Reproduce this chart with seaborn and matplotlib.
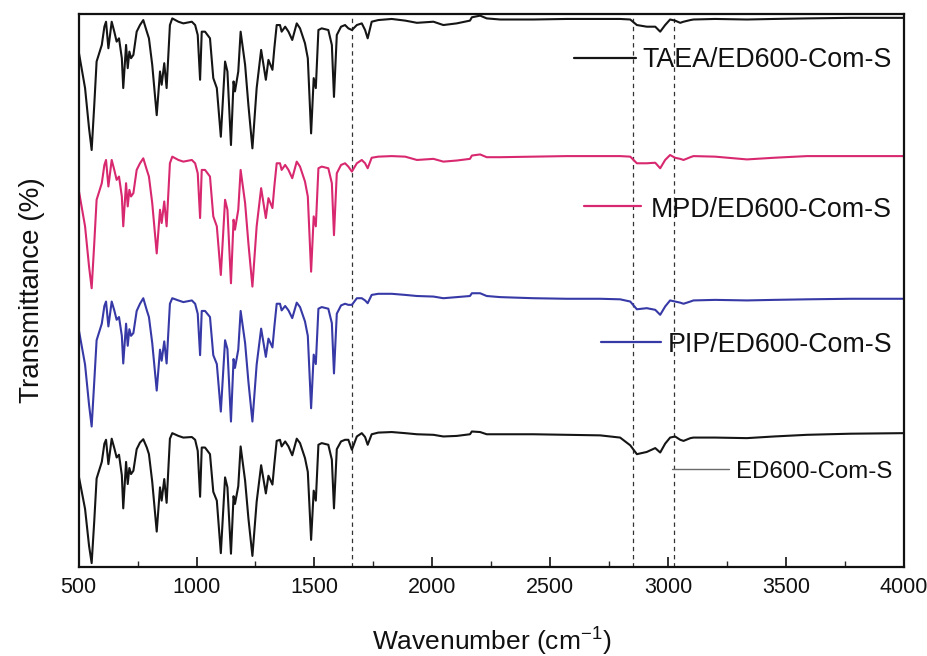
import numpy as np
import pandas as pd
import matplotlib
matplotlib.use("Agg")
import matplotlib.pyplot as plt
from matplotlib.ticker import MultipleLocator
import seaborn as sns

# FTIR spectra of the composite membranes (wavenumber in cm-1, transmittance in %)
wavenumber_low = [
    500, 527, 544, 555, 566, 576, 598, 609, 616, 626,
    640, 651, 661, 671, 683, 689, 701, 708, 715, 722,
    732, 746, 760, 774, 789, 798, 812, 831, 845, 852,
    863, 873, 887, 897, 923, 944, 980, 994, 1005, 1015,
    1022, 1036, 1057, 1071, 1086, 1103, 1121, 1131, 1146, 1157,
    1163, 1177, 1187, 1206, 1220, 1237, 1255, 1274, 1294, 1305,
    1322, 1330, 1340, 1354, 1361, 1376, 1390, 1406, 1425, 1439,
    1460, 1472, 1486, 1497, 1506, 1517, 1531, 1559, 1574, 1583,
    1595, 1613, 1630, 1644, 1659, 1680, 1701, 1715, 1726, 1743,
    1771, 1828, 1885,
]
wavenumber_high = [
    1935, 2005, 2047, 2104, 2160, 2168, 2203, 2231, 2288, 2429,
    2571, 2712, 2797, 2840, 2868, 2910, 2946, 2967, 2988, 3009,
    3030, 3052, 3066, 3095, 3108, 3200, 3335, 3450, 3590, 3774,
    4000,
]

taea_low = [
    93.2, 86.6, 79.3, 75.4, 83.5, 91.4, 94.4, 97.7, 98.6, 93.8,
    98.6, 96.8, 95.0, 95.6, 92.0, 86.6, 94.4, 90.2, 93.2, 92.0,
    92.6, 96.8, 98.0, 98.9, 96.8, 95.6, 90.8, 81.7, 89.6, 87.2,
    91.1, 86.6, 98.0, 99.2, 98.6, 98.3, 98.6, 98.0, 96.2, 88.1,
    96.8, 96.8, 95.6, 88.4, 86.6, 77.8, 91.4, 89.6, 76.3, 87.8,
    86.0, 89.6, 96.8, 90.8, 83.5, 75.7, 86.6, 93.5, 88.1, 91.7,
    89.9, 93.8, 98.0, 98.0, 96.8, 97.7, 96.8, 95.3, 98.3, 97.4,
    94.7, 92.0, 78.4, 88.4, 86.6, 97.1, 97.4, 97.1, 94.4, 85.0,
    96.2, 97.7, 98.0, 97.4, 97.1, 98.0, 98.3, 97.1, 95.6, 98.6,
    98.9, 99.1, 98.8,
]
taea_high = [
    98.4, 98.6, 98.0, 98.3, 98.8, 99.4, 99.7, 99.2, 99.0, 99.0,
    99.1, 99.1, 99.1, 99.0, 98.0, 97.7, 97.7, 96.8, 98.0, 99.0,
    98.8, 98.4, 98.6, 98.9, 99.0, 99.1, 99.0, 99.1, 99.2, 99.3,
    99.3,
]

mpd_low = [
    93.2, 86.6, 79.3, 75.4, 83.5, 91.4, 94.4, 97.7, 98.6, 93.8,
    98.6, 96.8, 95.0, 95.6, 92.0, 86.6, 94.4, 90.2, 93.2, 92.0,
    92.6, 96.8, 98.0, 98.9, 96.8, 95.6, 90.8, 81.7, 89.6, 87.2,
    91.1, 86.6, 98.0, 99.2, 98.6, 98.3, 98.6, 98.0, 96.2, 88.1,
    96.8, 96.8, 95.6, 88.4, 86.6, 77.8, 91.4, 89.6, 76.3, 87.8,
    86.0, 89.6, 96.8, 90.8, 83.5, 75.7, 86.6, 93.5, 88.1, 91.7,
    89.9, 93.8, 98.0, 98.0, 96.8, 97.7, 96.8, 95.3, 98.3, 97.4,
    94.7, 92.0, 78.4, 88.4, 86.6, 97.1, 97.4, 97.1, 94.4, 85.0,
    96.2, 97.7, 98.0, 97.4, 96.5, 98.0, 98.6, 98.0, 97.1, 99.0,
    99.2, 99.3, 99.2,
]
mpd_high = [
    98.6, 98.8, 98.3, 98.5, 98.8, 99.4, 99.6, 99.1, 99.1, 99.2,
    99.3, 99.3, 99.3, 99.2, 98.0, 98.0, 98.1, 97.1, 98.6, 99.5,
    99.0, 98.8, 98.6, 99.1, 99.3, 99.2, 98.7, 99.0, 99.3, 99.3,
    99.3,
]

pip_low = [
    93.0, 86.6, 79.3, 75.4, 83.5, 91.0, 94.0, 97.2, 98.0, 93.5,
    98.0, 96.4, 94.7, 95.2, 91.8, 86.8, 94.0, 90.0, 93.0, 91.8,
    92.3, 96.3, 97.6, 98.6, 96.4, 95.2, 90.5, 81.9, 89.3, 87.3,
    90.8, 86.8, 97.6, 98.6, 98.2, 97.9, 98.2, 97.6, 95.8, 88.3,
    96.3, 96.3, 95.2, 88.3, 86.7, 78.1, 91.0, 89.4, 76.3, 87.6,
    86.0, 89.3, 96.3, 90.5, 83.5, 76.3, 86.6, 93.1, 88.0, 91.3,
    89.7, 93.4, 97.6, 97.6, 96.4, 97.2, 96.4, 95.0, 97.8, 97.0,
    94.4, 91.8, 78.7, 88.4, 86.7, 96.7, 97.0, 96.7, 94.1, 85.0,
    95.8, 97.3, 97.6, 97.4, 97.4, 98.6, 98.6, 98.2, 97.7, 99.2,
    99.4, 99.4, 99.2,
]
pip_high = [
    99.0, 98.9, 98.6, 98.8, 99.0, 99.5, 99.5, 99.0, 98.8, 98.6,
    98.5, 98.5, 98.4, 98.0, 96.6, 96.8, 96.5, 95.6, 97.1, 98.2,
    98.0, 97.8, 97.6, 98.0, 98.2, 98.3, 98.2, 98.3, 98.4, 98.5,
    98.5,
]

ed600_low = [
    91.5, 85.5, 78.8, 75.7, 83.3, 91.0, 94.0, 97.3, 98.0, 93.6,
    98.2, 96.5, 94.8, 95.3, 91.6, 85.6, 94.0, 90.0, 92.9, 91.8,
    92.4, 96.3, 97.5, 98.1, 96.6, 95.4, 90.4, 81.4, 89.4, 87.0,
    90.9, 86.6, 98.2, 99.2, 98.7, 98.4, 98.5, 98.0, 96.0, 87.7,
    96.6, 96.6, 95.4, 88.6, 87.0, 77.5, 91.2, 89.4, 77.4, 87.8,
    86.4, 89.6, 96.8, 90.6, 83.8, 77.0, 86.8, 93.4, 88.3, 91.5,
    89.9, 93.6, 97.8, 98.0, 96.8, 97.7, 96.8, 95.2, 98.2, 97.4,
    94.7, 92.2, 79.9, 88.8, 87.0, 97.1, 97.4, 97.1, 94.4, 85.6,
    96.3, 97.7, 98.0, 98.0, 96.2, 98.6, 99.2, 98.5, 97.1, 99.0,
    99.3, 99.4, 99.2,
]
ed600_high = [
    99.0, 98.9, 98.6, 98.7, 99.0, 99.5, 99.4, 99.0, 99.0, 99.0,
    98.9, 98.8, 98.4, 97.0, 95.4, 95.8, 96.5, 95.7, 97.3, 98.4,
    98.6, 98.0, 97.8, 98.3, 98.4, 98.4, 98.3, 98.6, 98.9, 99.1,
    99.2,
]

samples = ["TAEA/ED600-Com-S", "MPD/ED600-Com-S", "PIP/ED600-Com-S", "ED600-Com-S"]
band_positions = [1660, 2850, 3025]

wavenumber = wavenumber_low + wavenumber_high
spectra = [taea_low + taea_high, mpd_low + mpd_high,
           pip_low + pip_high, ed600_low + ed600_high]

# vertical stacking of the traces and their styling
offsets = [0, -25, -50, -75]
colors = ["#151515", "#d8286f", "#3639a6", "#151515"]
key_colors = ["#151515", "#d8286f", "#3639a6", "#6a6a6a"]
key_widths = [1.6, 1.6, 1.6, 1.0]
key_lengths = [62, 57, 60, 57]
key_gaps = [7, 10, 7, 7]
label_sizes = [19.3, 19.3, 19.3, 17.3]
label_baseline = [90.4, 63.3, 38.9, 16.0]
key_y = [92.0, 65.2, 40.7, 17.8]

sns.set_style("ticks")
plt.rcParams["font.family"] = ["Liberation Sans", "DejaVu Sans"]
plt.rcParams["mathtext.fontset"] = "custom"
plt.rcParams["mathtext.rm"] = "Liberation Sans"
plt.rcParams["mathtext.it"] = "Liberation Sans:italic"
plt.rcParams["mathtext.default"] = "regular"

frames = []
for name, vals, off in zip(samples, spectra, offsets):
    vals = np.asarray(vals, dtype=float)
    frames.append(pd.DataFrame({
        "wavenumber": wavenumber,
        "transmittance": vals,
        "stacked": vals + off,
        "sample": name,
    }))
df = pd.concat(frames, ignore_index=True)

fig = plt.figure(figsize=(9.28, 6.56), dpi=100)
ax = fig.add_axes([0.0848, 0.1357, 0.889, 0.843])

for x in band_positions:
    ax.axvline(x, color="#333333", lw=0.9, ls=(0, (3.5, 3)), zorder=1)

for name, color in zip(samples, colors):
    sns.lineplot(data=df[df["sample"] == name], x="wavenumber", y="stacked",
                 color=color, lw=1.5, sort=False, estimator=None,
                 legend=False, ax=ax, zorder=2)

ax.set_xlim(500, 4000)
ax.set_ylim(0, 100)
ax.xaxis.set_major_locator(MultipleLocator(500))
ax.xaxis.set_minor_locator(MultipleLocator(250))
ax.set_yticks([])
ax.tick_params(axis="x", which="major", direction="in", length=7, width=1.2,
               labelsize=15.5, pad=7, top=False, colors="#111111")
ax.tick_params(axis="x", which="minor", direction="in", length=4, width=1.0,
               top=False)
for sp in ax.spines.values():
    sp.set_linewidth(1.6)
    sp.set_color("#111111")

ax.set_xlabel(r"Wavenumber (cm$^{-1}$)", fontsize=19, labelpad=20, color="#111111")
ax.set_ylabel("Transmittance (%)", fontsize=20, labelpad=24, color="#111111")

# inline keys: a short line segment in front of each sample name
fig.canvas.draw()
renderer = fig.canvas.get_renderer()
inv = ax.transData.inverted()
for name, yb, yk, kc, kw, kl, kg, fs in zip(samples, label_baseline, key_y,
                                            key_colors, key_widths, key_lengths,
                                            key_gaps, label_sizes):
    t = ax.text(3951, yb, name, ha="right", va="baseline", fontsize=fs,
                color="#111111", zorder=3)
    bb = t.get_window_extent(renderer)
    x_end = bb.x0 - kg
    x_start = x_end - kl
    xs = inv.transform([(x_start, 0), (x_end, 0)])[:, 0]
    ax.plot(xs, [yk, yk], color=kc, lw=kw, zorder=3)

fig.savefig("out.png", dpi=100)
